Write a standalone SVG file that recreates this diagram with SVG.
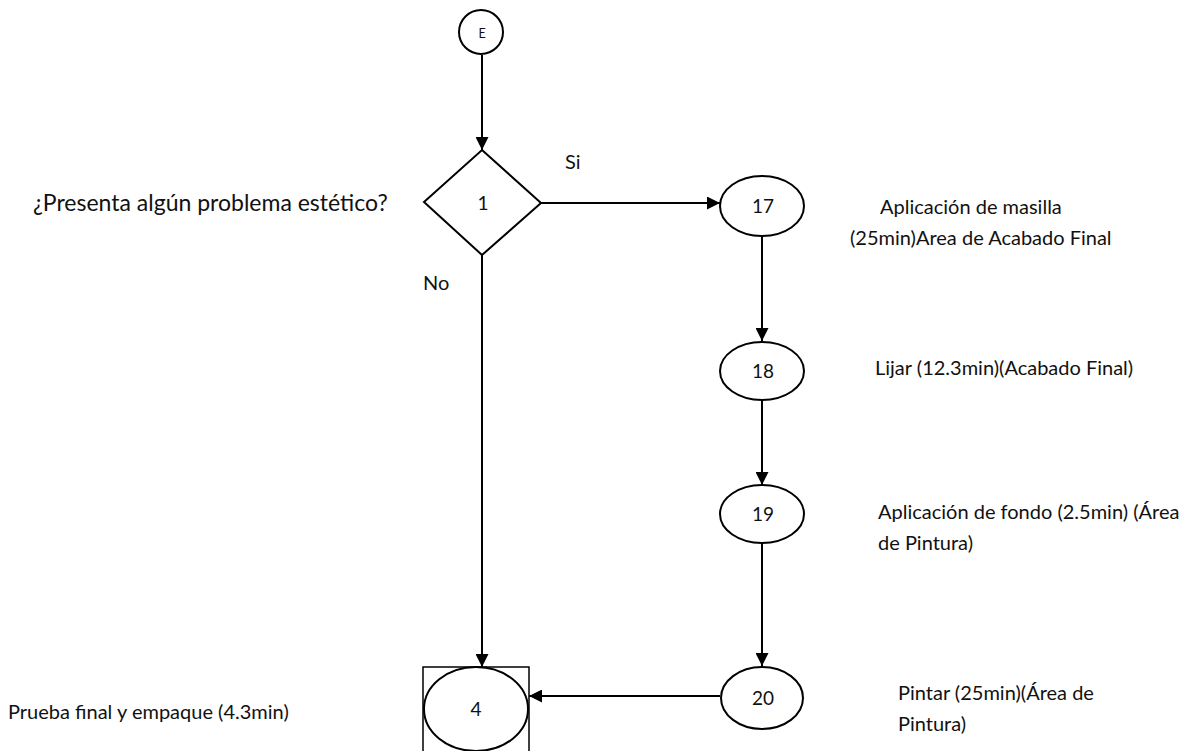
<svg xmlns="http://www.w3.org/2000/svg" width="1194" height="751" viewBox="0 0 1194 751">
  <style>
    .shape { fill: #ffffff; stroke: #000000; stroke-width: 2; }
    .box { fill: none; stroke: #000000; stroke-width: 1.5; }
    .edge { fill: none; stroke: #000000; stroke-width: 2; marker-end: url(#arrow); }
    text { font-family: Lato, "Open Sans", "Liberation Sans", sans-serif; fill: #111111; }
    .num { font-size: 19px; text-anchor: middle; }
    .lbl { font-size: 20px; }
    .q { font-size: 23px; }
  </style>
  <defs>
    <marker id="arrow" viewBox="0 0 10 10" refX="10" refY="5" markerWidth="13" markerHeight="13" markerUnits="userSpaceOnUse" orient="auto">
      <path d="M0,0 L10,5 L0,10 Z" fill="#000000"/>
    </marker>
  </defs>
  <rect width="1194" height="751" fill="#ffffff"/>

  <g id="connectors">
    <line class="edge" x1="482" y1="55" x2="482" y2="150"/>
    <line class="edge" x1="541" y1="203" x2="720" y2="203"/>
    <line class="edge" x1="482" y1="255" x2="482" y2="667"/>
    <line class="edge" x1="762" y1="236" x2="762" y2="341"/>
    <line class="edge" x1="762" y1="400" x2="762" y2="485"/>
    <line class="edge" x1="762" y1="543" x2="762" y2="666"/>
    <line class="edge" x1="720" y1="696" x2="529" y2="696"/>
    <text class="lbl" x="565" y="169">Si</text>
    <text class="lbl" x="423" y="290">No</text>
  </g>

  <g id="node-E">
    <circle class="shape" cx="481" cy="32" r="22"/>
    <text x="482" y="38" font-size="12.5" text-anchor="middle">E</text>
  </g>

  <g id="node-1">
    <polygon class="shape" points="482,150 541,203 482,255 424,202"/>
    <text class="num" x="483" y="210">1</text>
    <text class="q" x="33" y="211">¿Presenta algún problema estético?</text>
  </g>

  <g id="node-17">
    <ellipse class="shape" cx="762" cy="206" rx="42" ry="30"/>
    <text class="num" x="763" y="213">17</text>
    <text class="lbl" x="880" y="214">Aplicación de masilla</text>
    <text class="lbl" x="850" y="245">(25min)Area de Acabado Final</text>
  </g>

  <g id="node-18">
    <ellipse class="shape" cx="762" cy="371" rx="42" ry="29"/>
    <text class="num" x="763" y="378">18</text>
    <text class="lbl" x="875" y="375">Lijar (12.3min)(Acabado Final)</text>
  </g>

  <g id="node-19">
    <ellipse class="shape" cx="762" cy="514" rx="42" ry="29"/>
    <text class="num" x="763" y="521">19</text>
    <text class="lbl" x="878" y="519">Aplicación de fondo (2.5min) (Área</text>
    <text class="lbl" x="878" y="550">de Pintura)</text>
  </g>

  <g id="node-20">
    <ellipse class="shape" cx="762" cy="698" rx="41" ry="31"/>
    <text class="num" x="763" y="705">20</text>
    <text class="lbl" x="898" y="700">Pintar (25min)(Área de</text>
    <text class="lbl" x="898" y="731">Pintura)</text>
  </g>

  <g id="node-4">
    <rect class="box" x="423" y="667" width="106" height="86"/>
    <ellipse class="shape" cx="476" cy="709" rx="52" ry="42"/>
    <text class="num" x="476" y="716">4</text>
    <text class="lbl" x="8" y="719">Prueba final y empaque (4.3min)</text>
  </g>
</svg>
